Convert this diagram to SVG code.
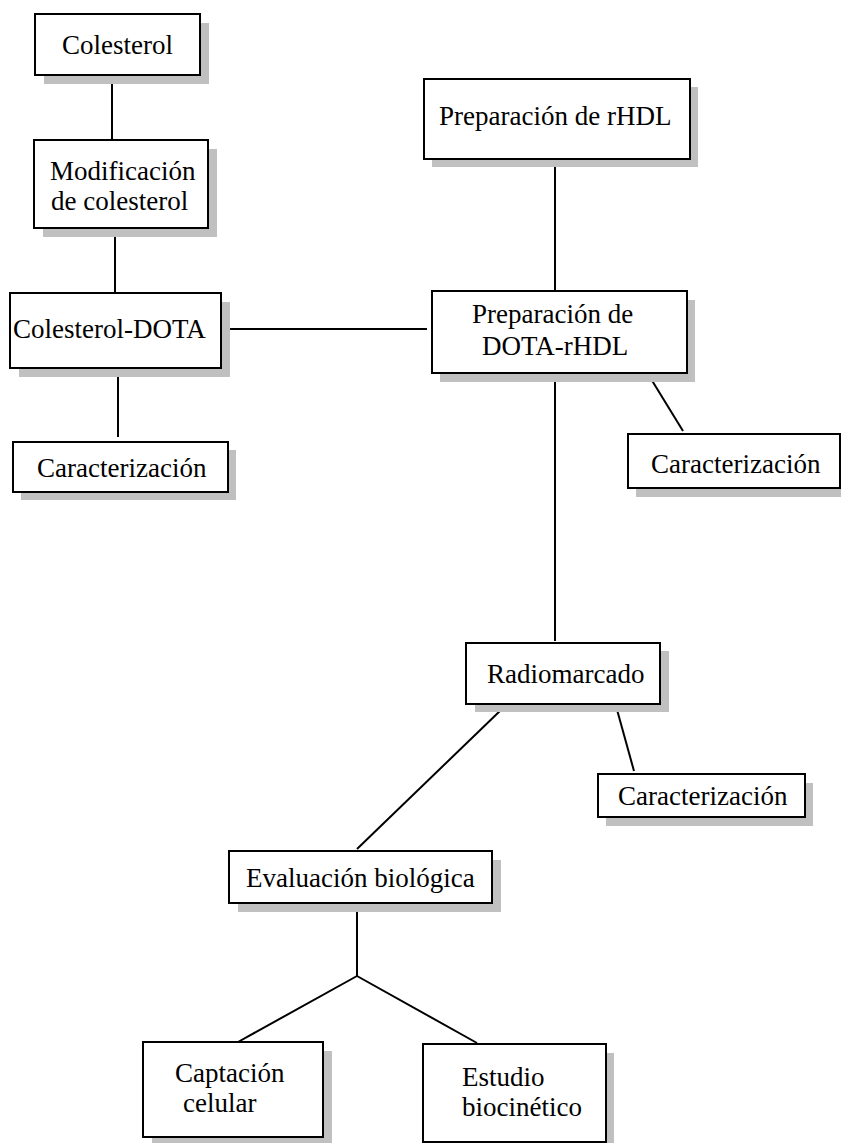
<svg xmlns="http://www.w3.org/2000/svg" width="841" height="1143" viewBox="0 0 841 1143">
<style>
.sh{fill:#c0c0c0;stroke:none}
.bx{fill:#fff;stroke:#000;stroke-width:2}
.t{font-family:"Liberation Serif","Times New Roman",serif;font-size:27px;fill:#000}
.c line{stroke:#000;stroke-width:2}
</style>
<rect width="841" height="1143" fill="#fff"/>
<g class="c" id="connectors">
<line x1="112" y1="75" x2="112" y2="140"/>
<line x1="115" y1="228" x2="115" y2="293"/>
<line x1="221" y1="329" x2="427" y2="329"/>
<line x1="118" y1="372" x2="118" y2="437"/>
<line x1="555" y1="167" x2="555" y2="292"/>
<line x1="555" y1="378" x2="555" y2="641"/>
<line x1="648" y1="374" x2="683" y2="431"/>
<line x1="616" y1="706" x2="634" y2="771"/>
<line x1="502" y1="709" x2="357" y2="849"/>
<line x1="357" y1="909" x2="357" y2="976"/>
<line x1="357" y1="976" x2="238" y2="1042"/>
<line x1="357" y1="976" x2="477" y2="1043"/>
</g>
<g id="n-colesterol">
<rect class="sh" x="44" y="23" width="165" height="61"/>
<rect class="bx" x="35" y="14" width="165" height="61"/>
<text class="t" x="62" y="54">Colesterol</text>
</g>
<g id="n-modificacion">
<rect class="sh" x="43" y="149" width="174" height="88"/>
<rect class="bx" x="34" y="140" width="174" height="88"/>
<text class="t" x="50" y="180">Modificación</text>
<text class="t" x="51" y="210">de colesterol</text>
</g>
<g id="n-colesterol-dota">
<rect class="sh" x="19" y="302" width="211" height="75"/>
<rect class="bx" x="10" y="293" width="211" height="75"/>
<text class="t" x="13" y="338">Colesterol-DOTA</text>
</g>
<g id="n-caract1">
<rect class="sh" x="21" y="450" width="215" height="50"/>
<rect class="bx" x="13" y="442" width="215" height="50"/>
<text class="t" x="37" y="477">Caracterización</text>
</g>
<g id="n-prep-rhdl">
<rect class="sh" x="432" y="87" width="266" height="80"/>
<rect class="bx" x="424" y="79" width="266" height="80"/>
<text class="t" x="439" y="125">Preparación de rHDL</text>
</g>
<g id="n-prep-dota">
<rect class="sh" x="440" y="300" width="255" height="82"/>
<rect class="bx" x="432" y="291" width="255" height="82"/>
<text class="t" x="472" y="323">Preparación de</text>
<text class="t" x="482" y="355">DOTA-rHDL</text>
</g>
<g id="n-caract2">
<rect class="sh" x="636" y="443" width="212" height="54"/>
<rect class="bx" x="628" y="434" width="212" height="54"/>
<text class="t" x="651" y="473">Caracterización</text>
</g>
<g id="n-radiomarcado">
<rect class="sh" x="475" y="651" width="194" height="61"/>
<rect class="bx" x="466" y="643" width="194" height="61"/>
<text class="t" x="487" y="683">Radiomarcado</text>
</g>
<g id="n-caract3">
<rect class="sh" x="606" y="783" width="207" height="43"/>
<rect class="bx" x="598" y="774" width="207" height="43"/>
<text class="t" x="618" y="805">Caracterización</text>
</g>
<g id="n-evaluacion">
<rect class="sh" x="238" y="860" width="263" height="52"/>
<rect class="bx" x="229" y="851" width="263" height="52"/>
<text class="t" x="246" y="887">Evaluación biológica</text>
</g>
<g id="n-captacion">
<rect class="sh" x="152" y="1051" width="180" height="95"/>
<rect class="bx" x="143" y="1042" width="180" height="95"/>
<text class="t" x="175" y="1082">Captación</text>
<text class="t" x="183" y="1112">celular</text>
</g>
<g id="n-estudio">
<rect class="sh" x="431" y="1053" width="183" height="98"/>
<rect class="bx" x="423" y="1044" width="183" height="98"/>
<text class="t" x="462" y="1086">Estudio</text>
<text class="t" x="462" y="1116">biocinético</text>
</g>
</svg>
